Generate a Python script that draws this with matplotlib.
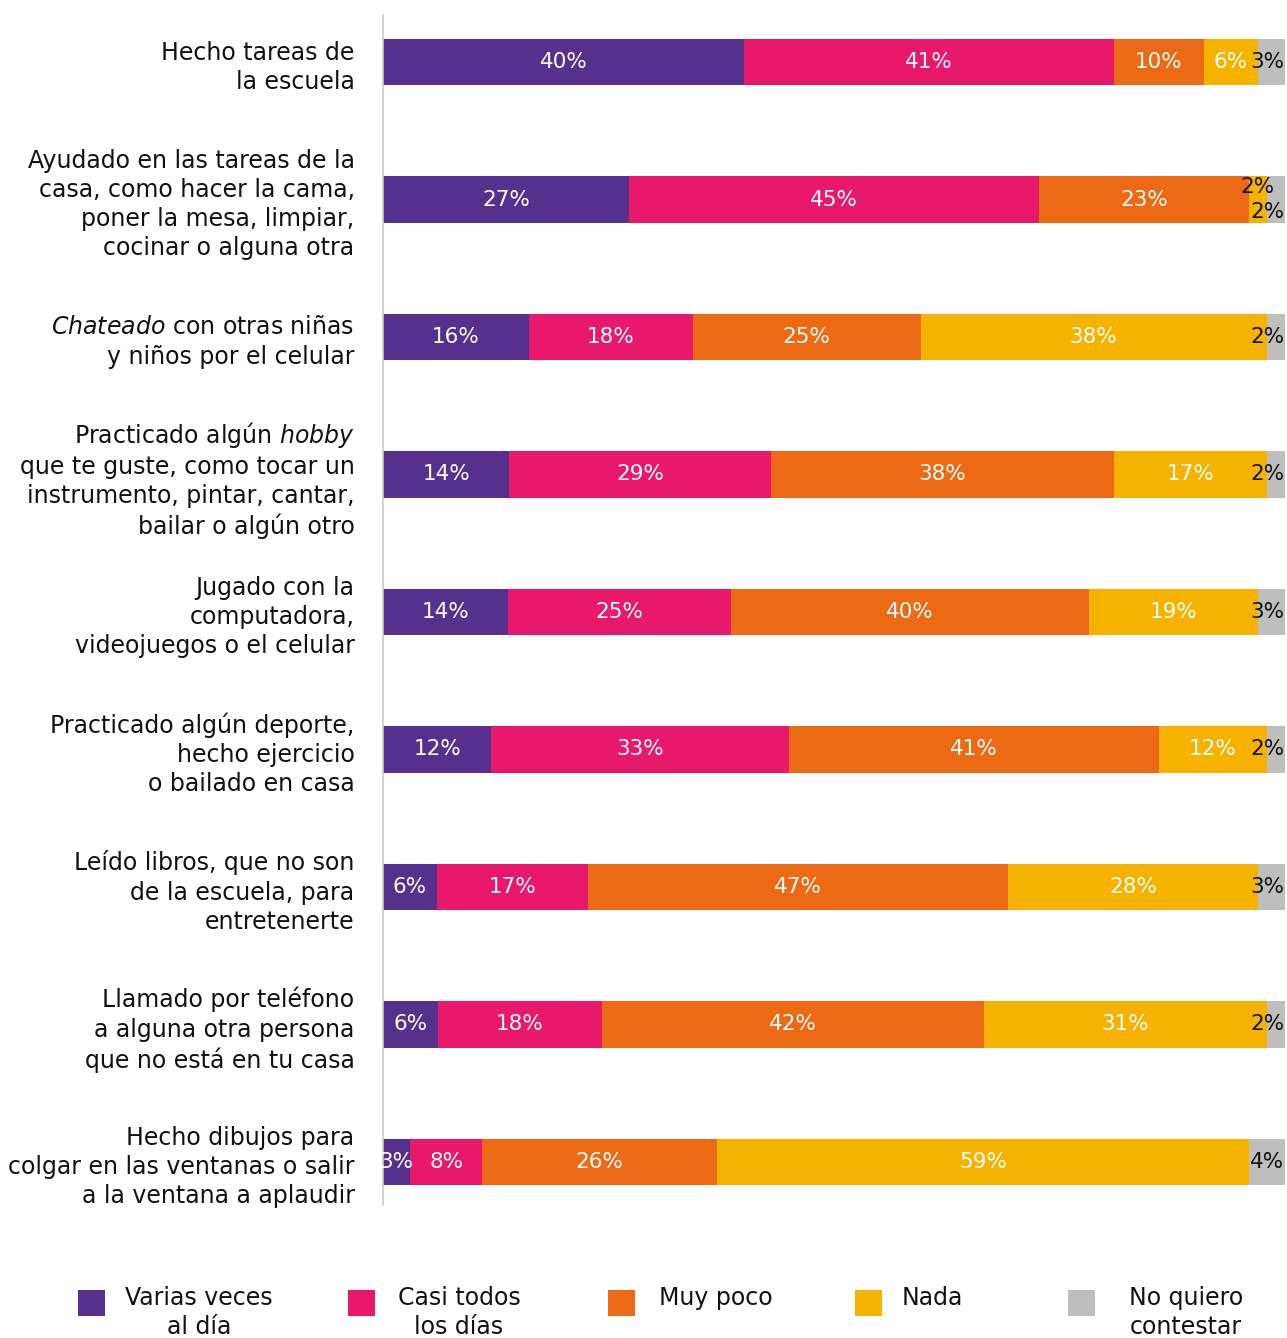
import matplotlib.pyplot as plt
from matplotlib.patches import Rectangle
import numpy as np

plt.rcParams['font.family'] = ['DejaVu Sans']
plt.rcParams['mathtext.fontset'] = 'custom'
plt.rcParams['mathtext.it'] = 'DejaVu Sans:italic'
plt.rcParams['mathtext.rm'] = 'DejaVu Sans'

categories = [
    "Hecho tareas de\nla escuela",
    "Ayudado en las tareas de la\ncasa, como hacer la cama,\nponer la mesa, limpiar,\ncocinar o alguna otra",
    "$\\mathit{Chateado}$ con otras niñas\ny niños por el celular",
    "Practicado algún $\\mathit{hobby}$ \nque te guste, como tocar un\ninstrumento, pintar, cantar,\nbailar o algún otro",
    "Jugado con la\ncomputadora,\nvideojuegos o el celular",
    "Practicado algún deporte,\nhecho ejercicio\no bailado en casa",
    "Leído libros, que no son\nde la escuela, para\nentretenerte",
    "Llamado por teléfono\na alguna otra persona\nque no está en tu casa",
    "Hecho dibujos para\ncolgar en las ventanas o salir\na la ventana a aplaudir",
]

series = ["Varias veces\nal día", "Casi todos\nlos días", "Muy poco", "Nada", "No quiero\ncontestar"]
colors = ["#55308D", "#E8196A", "#EC6A14", "#F5B300", "#BEBEBE"]

varias = [40, 27, 16, 14, 14, 12, 6, 6, 3]
casi = [41, 45, 18, 29, 25, 33, 17, 18, 8]
muy_poco = [10, 23, 25, 38, 40, 41, 47, 42, 26]
nada = [6, 2, 38, 17, 19, 12, 28, 31, 59]
no_contesta = [3, 2, 2, 2, 3, 2, 3, 2, 4]

data = np.array([varias, casi, muy_poco, nada, no_contesta], dtype=float)
shares = data / data.sum(axis=0) * 100

fig = plt.figure(figsize=(12.87, 13.38), dpi=100)
ax = fig.add_axes([383 / 1287, 0.0994, 902 / 1287, 0.8894])

y = np.arange(len(categories))
left = np.zeros(len(categories))
for k in range(len(series)):
    ax.barh(y, shares[k], left=left, height=0.34, color=colors[k], linewidth=0)
    for i in range(len(categories)):
        lbl = f"{int(data[k, i])}%"
        cx = left[i] + shares[k, i] / 2
        if k == 4:
            dy = 0.09 if i == 1 else 0
            ax.text(99.9, y[i] + dy, lbl, ha='right', va='center', fontsize=15.5, color='#111111')
        elif k == 3 and i == 1:
            ax.text(cx, y[i] - 0.09, lbl, ha='center', va='center', fontsize=15.5, color='#111111')
        else:
            ax.text(cx, y[i], lbl, ha='center', va='center', fontsize=15.5, color='white')
    left += shares[k]

ax.set_xlim(0, 100)
ax.set_ylim(8.313, -0.342)
ax.set_yticks(y)
ax.set_yticklabels(categories, fontsize=17, ha='right', linespacing=1.27, color='#111111')
ax.tick_params(axis='y', length=0, pad=20.5)
ax.set_xticks([])
for s in ['top', 'right', 'bottom']:
    ax.spines[s].set_visible(False)
ax.spines['left'].set_color('#CCCCCC')
ax.spines['left'].set_linewidth(1.2)

# leyenda
sq_x = [78, 348, 608, 855, 1068]
txt_x = [199, 459, 716, 932, 1186]
for k in range(len(series)):
    fig.patches.append(Rectangle((sq_x[k] / 1287, (1338 - 1316) / 1338), 27 / 1287, 26 / 1338,
                                 transform=fig.transFigure, color=colors[k], linewidth=0))
    fig.text(txt_x[k] / 1287, (1338 - 1286) / 1338, series[k], ha='center', va='top',
             fontsize=17, linespacing=1.27, multialignment='center', color='#111111')

fig.savefig("out.png", dpi=100)
